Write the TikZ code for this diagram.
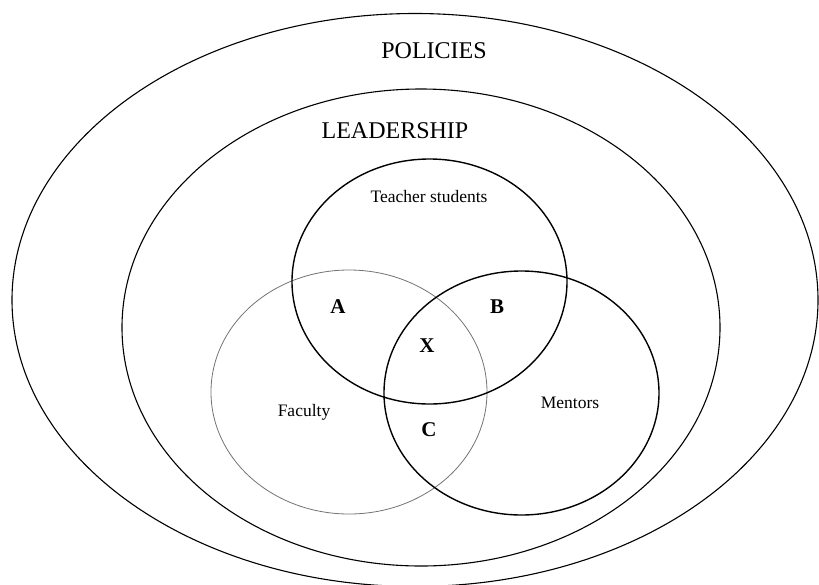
\documentclass[tikz,border=0pt]{standalone}
\usepackage{fontspec}
\setmainfont{Liberation Serif}
\usetikzlibrary{shapes.geometric}
\tikzset{
  ring/.style={draw=black, line width=1.1pt, ellipse, inner sep=0pt},
  setring/.style={draw=black, line width=1.4pt, ellipse, inner sep=0pt},
  grayring/.style={draw=black!55, line width=0.8pt, ellipse, inner sep=0pt},
  bigtitle/.style={font=\fontsize{24}{28}\selectfont, inner sep=0pt},
  setname/.style={font=\fontsize{17.5}{20}\selectfont, inner sep=0pt},
  region/.style={font=\fontsize{21}{25}\selectfont\bfseries, inner sep=0pt}
}
\begin{document}
\begin{tikzpicture}[x=1pt, y=-1pt]
\useasboundingbox (0,0) rectangle (819,584);
\clip (0,0) rectangle (819,584);
\node[ring, minimum width=806pt, minimum height=573pt] (policies) at (415,300) {};
\node[ring, minimum width=598pt, minimum height=477pt] (leadership) at (421,327.5) {};
\node[grayring, minimum width=276pt, minimum height=244pt] (faculty) at (349,392) {};
\node[setring, minimum width=275pt, minimum height=245pt] (teacher) at (429.5,281.5) {};
\node[setring, minimum width=275pt, minimum height=244pt] (mentors) at (521.5,393) {};
\node[bigtitle] (policiestext) at (434,51) {POLICIES};
\node[bigtitle] (leadershiptext) at (395,131) {LEADERSHIP};
\node[setname] (teachertext) at (429,197) {Teacher students};
\node[setname] (facultytext) at (304,412) {Faculty};
\node[setname] (mentorstext) at (570,403) {Mentors};
\node[region] (a) at (338,307) {A};
\node[region] (b) at (497,307) {B};
\node[region] (x) at (427,346) {X};
\node[region] (c) at (429,430) {C};
\end{tikzpicture}
\end{document}
